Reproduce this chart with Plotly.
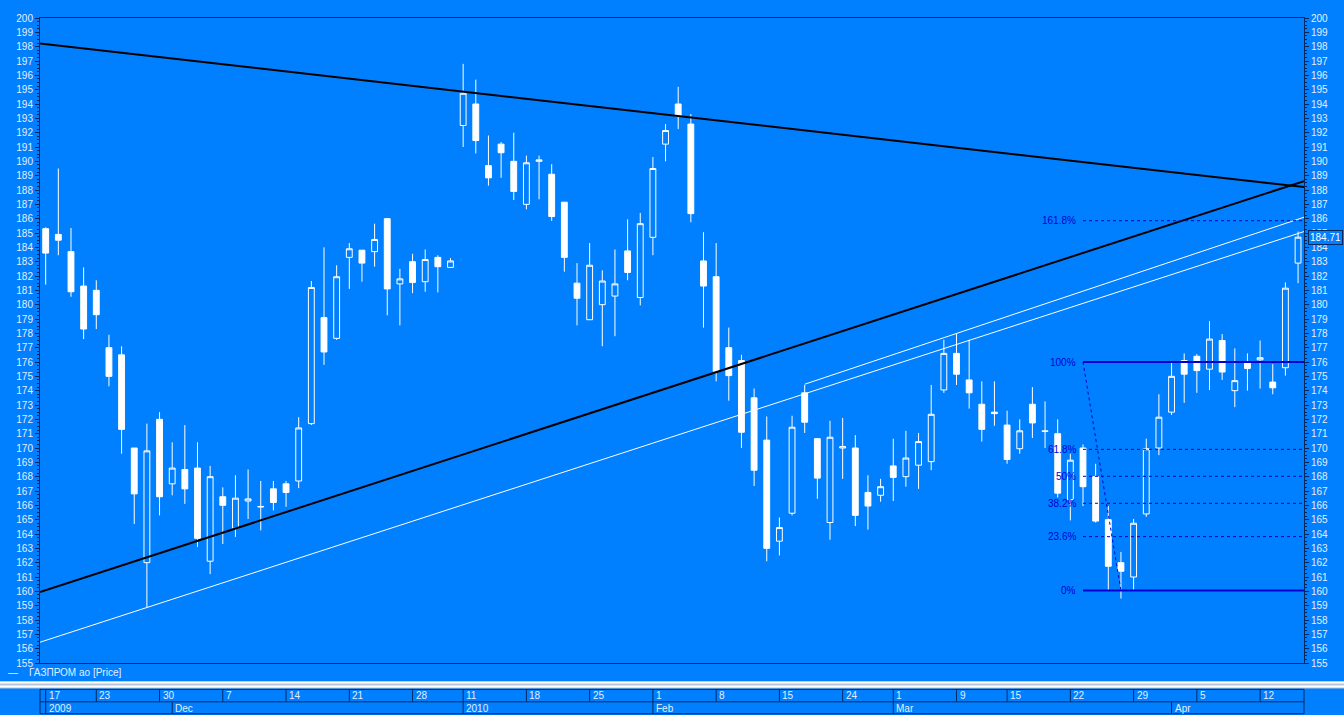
import plotly.graph_objects as go

# ---------------- data ----------------
opens = [185.3, 184.9, 183.7, 181.3, 181.0, 177.0, 176.5, 170.0, 162.0, 172.0,
         167.5, 168.5, 168.6, 162.1, 166.6, 164.4, 166.3, 165.88, 167.15, 167.5,
         167.7, 171.7, 179.1, 177.65, 183.3, 183.8, 183.7, 186.0, 181.45, 183.0,
         181.6, 183.3, 182.6, 192.5, 194.0, 189.7, 191.2, 190.0, 187.0, 190.0,
         189.1, 187.15, 181.5, 178.95, 180.0, 180.6, 183.75, 180.5, 184.7, 191.2,
         194.0, 192.6, 183.05, 181.95, 177.0, 176.1, 173.5, 170.55, 163.5, 165.45,
         173.85, 170.65, 164.8, 170.0, 170.0, 166.9, 166.7, 168.75, 168.0, 168.8,
         169.05, 174.05, 176.6, 174.75, 173.05, 172.5, 171.6, 169.95, 173.05, 171.2,
         171.0, 166.4, 170.0, 168.0, 165.0, 162.0, 161.0, 165.4, 170.0, 172.5,
         176.1, 176.4, 175.5, 177.5, 174.0, 175.95, 176.15, 174.6, 175.6, 182.9]
highs = [185.4, 189.5, 185.35, 182.6, 181.7, 177.9, 177.1, 170.0, 171.7, 172.5,
         170.4, 171.6, 170.4, 168.75, 167.25, 168.1, 168.5, 167.7, 167.7, 167.7,
         172.15, 181.65, 184.0, 182.75, 184.3, 183.8, 185.65, 186.05, 182.5, 183.55,
         183.85, 183.45, 183.25, 196.8, 195.7, 191.8, 191.35, 192.0, 190.4, 190.4,
         189.8, 187.15, 182.9, 184.3, 182.4, 183.85, 185.95, 186.4, 190.3, 192.6,
         195.2, 193.3, 185.05, 184.3, 178.4, 176.5, 174.15, 172.2, 165.15, 172.25,
         174.4, 170.7, 171.9, 172.1, 170.9, 168.1, 167.85, 170.65, 171.2, 171.05,
         174.4, 177.55, 178.0, 177.55, 174.65, 174.65, 172.6, 172.0, 174.25, 173.25,
         172.0, 169.6, 170.25, 168.9, 165.95, 162.75, 165.05, 170.65, 173.75, 175.95,
         176.6, 176.55, 178.85, 177.95, 176.95, 176.6, 177.5, 175.85, 181.55, 185.1]
lows = [181.4, 183.45, 180.55, 177.6, 178.3, 174.3, 169.6, 164.7, 158.9, 165.3,
        166.7, 166.1, 163.1, 161.2, 163.3, 163.8, 165.05, 164.25, 165.65, 165.9,
        167.2, 171.6, 175.8, 177.55, 181.1, 181.6, 182.65, 179.25, 178.55, 180.8,
        180.9, 180.85, 182.6, 191.0, 190.55, 188.3, 188.85, 187.3, 186.65, 187.35,
        185.85, 182.3, 178.55, 178.95, 177.1, 177.8, 181.7, 179.95, 183.45, 190.0,
        192.25, 185.75, 178.4, 174.65, 173.3, 170.0, 167.35, 162.1, 162.5, 165.3,
        171.05, 166.45, 163.6, 167.85, 164.55, 164.3, 166.25, 166.3, 167.3, 167.15,
        168.45, 173.85, 174.4, 172.75, 170.45, 171.55, 168.9, 169.6, 170.7, 170.0,
        166.55, 164.95, 165.95, 164.8, 160.05, 159.5, 160.1, 165.2, 169.5, 172.3,
        173.15, 173.85, 174.05, 174.75, 172.85, 174.0, 174.15, 173.75, 175.05, 181.5]
closes = [183.6, 184.5, 180.9, 178.3, 179.3, 175.0, 171.3, 166.8, 169.8, 166.6,
          168.6, 167.15, 163.7, 168.0, 166.0, 166.5, 166.45, 165.92, 166.2, 166.9,
          171.4, 181.2, 176.7, 181.95, 183.9, 182.9, 184.55, 181.1, 181.8, 181.55,
          183.15, 182.65, 183.05, 194.75, 191.45, 188.85, 190.6, 187.9, 189.9, 190.1,
          186.15, 183.3, 180.45, 182.75, 181.65, 181.45, 182.25, 185.65, 189.5, 192.15,
          193.15, 186.35, 181.3, 175.35, 175.05, 171.1, 168.45, 163.0, 164.45, 171.45,
          171.8, 167.9, 170.75, 170.1, 165.3, 165.95, 167.3, 167.95, 169.3, 170.45,
          172.35, 176.6, 175.15, 173.85, 171.3, 172.4, 169.2, 171.2, 171.75, 171.15,
          166.85, 169.15, 167.3, 164.9, 161.75, 161.4, 164.75, 169.95, 172.15, 175.0,
          175.15, 175.4, 177.6, 175.3, 174.7, 175.55, 176.3, 174.2, 181.15, 184.71]

day_tick_idx = [0, 4, 9, 14, 19, 24, 29, 33, 38, 43, 48, 53, 58, 63, 67, 72, 76, 81, 86, 91, 96]
day_tick_txt = ["17", "23", "30", "7", "14", "21", "28", "11", "18", "25", "1", "8",
                "15", "24", "1", "9", "15", "22", "29", "5", "12"]
month_tick_idx = [0, 10, 33, 48, 67, 89]
month_tick_txt = ["2009", "Dec", "2010", "Feb", "Mar", "Apr"]

# trend lines: (index, price) end points
resist_x = [-0.45, 99.47]
resist_y = [198.22, 188.2]
support_x = [-0.45, 99.47]
support_y = [159.95, 188.62]
chan_low_x = [-0.45, 99.47]
chan_low_y = [156.45, 185.1]
chan_up_x = [60, 99.47]
chan_up_y = [174.45, 186.1]

# Fibonacci retracement
fib_low = 160.05
fib_high = 176.0
fib_start = 82
fib_diag_x = [82, 85]
fib_ratios = [0.0, 0.236, 0.382, 0.5, 0.618, 1.0, 1.618]
fib_labels = ["0%", "23.6%", "38.2%", "50%", "61.8%", "100%", "161.8%"]

series_name = "ГАЗПРОМ ао [Price]"
last_price_text = "184.71"

# ---------------- styling ----------------
BG = "#0080ff"
DARK = "#00285e"
TXT = "#e4eeff"
FIB = "#0000d0"
FONT = "Liberation Sans Narrow, Liberation Sans, Arial"
X0, X1 = -0.45, 99.47

W, H = 1344, 715
ML, MR, MT, MB = 40, 40, 15, 52
PW = W - ML - MR
PH = H - MT - MB


def py(px):
    return (H - MB - px) / PH


def pxx(px):
    return (px - ML) / PW


n = len(closes)
idx = list(range(n))

fig = go.Figure()

fig.add_trace(go.Candlestick(
    x=idx, open=opens, high=highs, low=lows, close=closes,
    increasing=dict(line=dict(color="white", width=1), fillcolor=BG),
    decreasing=dict(line=dict(color="white", width=1), fillcolor="white"),
    whiskerwidth=0, showlegend=False, hoverinfo="skip", name=series_name))

for xs, ys, col, w in [(resist_x, resist_y, "black", 2), (support_x, support_y, "black", 2),
                       (chan_low_x, chan_low_y, "white", 1), (chan_up_x, chan_up_y, "white", 1)]:
    fig.add_trace(go.Scatter(x=xs, y=ys, mode="lines", line=dict(color=col, width=w),
                             showlegend=False, hoverinfo="skip"))

# fibonacci levels
fib_vals = [fib_low + r * (fib_high - fib_low) for r in fib_ratios]
for r, v, lab in zip(fib_ratios, fib_vals, fib_labels):
    solid = r in (0.0, 1.0)
    fig.add_trace(go.Scatter(x=[fib_start, X1], y=[v, v], mode="lines",
                             line=dict(color=FIB, width=2 if solid else 1,
                                       dash="solid" if solid else "dot"),
                             showlegend=False, hoverinfo="skip"))
    fig.add_annotation(x=fib_start, y=v, text=lab, showarrow=False, xanchor="right",
                       yanchor="middle", xshift=-5, font=dict(family=FONT, size=10, color=FIB))
fig.add_trace(go.Scatter(x=fib_diag_x, y=[fib_high, fib_low], mode="lines",
                         line=dict(color=FIB, width=1, dash="dot"),
                         showlegend=False, hoverinfo="skip"))

# invisible trace so that the right axis is drawn
fig.add_trace(go.Scatter(x=[idx[-1]], y=[closes[-1]], yaxis="y2", mode="markers",
                         marker=dict(opacity=0), showlegend=False, hoverinfo="skip"))

yax = dict(range=[155, 200], dtick=1, tick0=155, ticks="outside", ticklen=4, tickcolor=DARK,
           tickfont=dict(family=FONT, size=10, color=TXT), showgrid=False, zeroline=False,
           showline=True, linecolor=DARK, linewidth=1,
           minor=dict(dtick=0.25, ticks="outside", ticklen=2, tickcolor=DARK))

fig.update_layout(
    width=W, height=H, margin=dict(l=ML, r=MR, t=MT, b=MB, pad=0),
    paper_bgcolor=BG, plot_bgcolor=BG, showlegend=False, boxgap=0.34,
    xaxis=dict(range=[X0, X1], showgrid=False, zeroline=False, showticklabels=False,
               ticks="", showline=True, mirror=True, linecolor=DARK, linewidth=1,
               rangeslider=dict(visible=False)),
    yaxis=dict(side="left", **yax),
    yaxis2=dict(side="right", overlaying="y", **yax),
)

# last price box
fig.add_annotation(xref="paper", x=1, yref="y2", y=closes[-1], text=last_price_text,
                   showarrow=False, xanchor="left", xshift=4, yanchor="middle",
                   font=dict(family=FONT, size=10, color="white"), bgcolor=BG,
                   bordercolor=DARK, borderwidth=1, borderpad=1)

# legend text
fig.add_annotation(xref="paper", x=pxx(6), yref="paper", y=py(673), text="—    " + series_name,
                   showarrow=False, xanchor="left", yanchor="middle",
                   font=dict(family=FONT, size=10, color=TXT))

shapes = []
# splitter band
shapes.append(dict(type="rect", xref="paper", yref="paper", x0=pxx(0), x1=pxx(W),
                   y0=py(688.5), y1=py(681.5), fillcolor="#b8c4d8", line=dict(width=0), layer="above"))
for yy in (682.5, 686.5):
    shapes.append(dict(type="line", xref="paper", yref="paper", x0=pxx(0), x1=pxx(W),
                       y0=py(yy), y1=py(yy), line=dict(color="white", width=2)))
# date panel frame
for yy in (689.5, 702, 714):
    shapes.append(dict(type="line", xref="paper", yref="paper", x0=0, x1=1,
                       y0=py(yy), y1=py(yy), line=dict(color=DARK, width=1)))
for xx in (0, 1):
    shapes.append(dict(type="line", xref="paper", yref="paper", x0=xx, x1=xx,
                       y0=py(689.5), y1=py(714), line=dict(color=DARK, width=1)))
for i, t in zip(day_tick_idx, day_tick_txt):
    shapes.append(dict(type="line", xref="x", yref="paper", x0=i, x1=i,
                       y0=py(689.5), y1=py(702), line=dict(color=DARK, width=1)))
    fig.add_annotation(xref="x", x=i, yref="paper", y=py(696), text=t, showarrow=False,
                       xanchor="left", yanchor="middle", xshift=1,
                       font=dict(family=FONT, size=10, color=TXT))
for i, t in zip(month_tick_idx, month_tick_txt):
    shapes.append(dict(type="line", xref="x", yref="paper", x0=i, x1=i,
                       y0=py(702), y1=py(714), line=dict(color=DARK, width=1)))
    fig.add_annotation(xref="x", x=i, yref="paper", y=py(708.5), text=t, showarrow=False,
                       xanchor="left", yanchor="middle", xshift=1,
                       font=dict(family=FONT, size=10, color=TXT))
fig.update_layout(shapes=shapes)

fig.write_html(
    "out.html",
    config={"displayModeBar": False},
    post_script=("document.body.style.margin='0';document.body.style.padding='0';"
                 "document.body.style.overflow='hidden';"
                 "document.body.style.background='" + BG + "';"),
)
